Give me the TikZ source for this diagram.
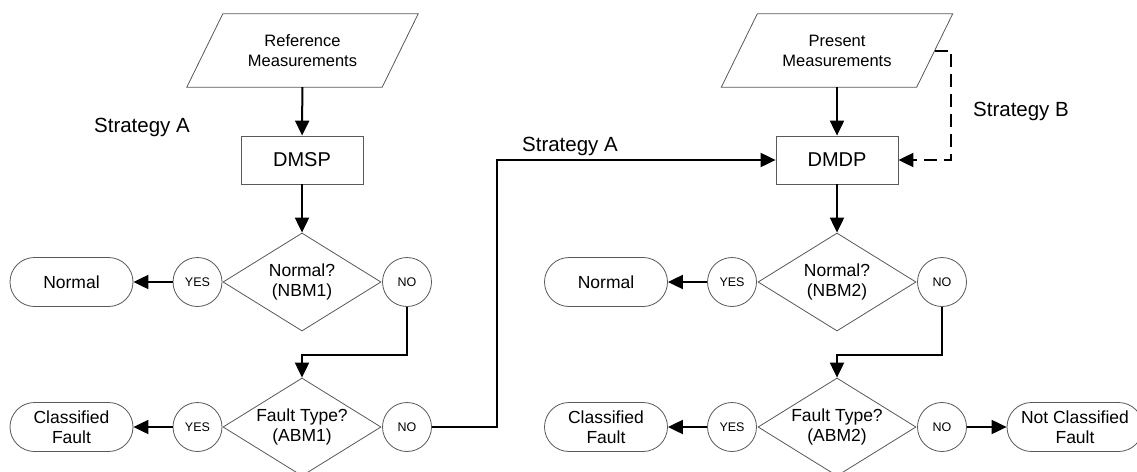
\documentclass[tikz,border=0pt]{standalone}
\usepackage{fontspec}
\setmainfont{Liberation Sans}
\usetikzlibrary{shapes.geometric,arrows.meta,calc}

\begin{document}
\begin{tikzpicture}[x=1pt,y=-1pt,
  outline/.style={draw=black!65, line width=0.8pt},
  procbox/.style={outline, rectangle, minimum width=122pt, minimum height=48pt, inner sep=0pt, font=\fontsize{20}{24}\selectfont},
  paranode/.style={rectangle, minimum width=195pt, minimum height=73pt, inner sep=0pt, align=center, font=\fontsize{16.5}{20}\selectfont},
  decision/.style={outline, diamond, aspect=1.61, minimum width=158pt, minimum height=98pt, inner sep=0pt, align=center, font=\fontsize{17.5}{20}\selectfont},
  answer/.style={outline, circle, minimum size=49pt, inner sep=0pt, font=\fontsize{12.5}{14}\selectfont},
  terminal/.style={outline, rectangle, rounded corners=24.5pt, minimum width=123pt, minimum height=49pt, inner sep=0pt, align=center, font=\fontsize{17.5}{20}\selectfont},
  conn/.style={line width=2pt, -{Triangle[length=15pt,width=14pt]}},
  stratlabel/.style={font=\fontsize{20.5}{24}\selectfont, inner sep=0pt}
]
\clip (0,0) rectangle (1137,471);
\fill[white] (0,0) rectangle (1137,471);

% ---------- left column ----------
\node[paranode] (ref) at (302.5,50.5) {Reference\\Measurements};
\draw[outline] ($(ref.north west)+(18,0)$) -- ($(ref.north east)+(18,0)$)
  -- ($(ref.south east)+(-18,0)$) -- ($(ref.south west)+(-18,0)$) -- cycle;
\node[procbox] (dmsp) at (302,160) {DMSP};
\node[decision] (d1) at (302,282) {Normal?\\(NBM1)};
\node[answer] (yes1) at (197.5,282) {YES};
\node[answer] (no1) at (407,282) {NO};
\node[terminal] (norm1) at (71.5,282) {Normal};
\node[decision] (d2) at (302,427) {Fault Type?\\(ABM1)};
\node[answer] (yes2) at (197.5,427) {YES};
\node[answer] (no2) at (407,427) {NO};
\node[terminal] (cf1) at (71.5,427) {Classified\\Fault};
\node[stratlabel] (sa1) at (142,127) {Strategy A};

% ---------- right column ----------
\node[paranode] (pres) at (837,50.5) {Present\\Measurements};
\draw[outline] ($(pres.north west)+(18,0)$) -- ($(pres.north east)+(18,0)$)
  -- ($(pres.south east)+(-18,0)$) -- ($(pres.south west)+(-18,0)$) -- cycle;
\node[procbox] (dmdp) at (837,160) {DMDP};
\node[decision] (d3) at (837,282) {Normal?\\(NBM2)};
\node[answer] (yes3) at (732,282) {YES};
\node[answer] (no3) at (942,282) {NO};
\node[terminal] (norm2) at (606,282) {Normal};
\node[decision] (d4) at (837,427) {Fault Type?\\(ABM2)};
\node[answer] (yes4) at (732,427) {YES};
\node[answer] (no4) at (942,427) {NO};
\node[terminal] (cf2) at (606,427) {Classified\\Fault};
\node[terminal, minimum width=136pt] (ncf) at (1075,427) {Not Classified\\Fault};
\node[stratlabel] (sa2) at (570,146) {Strategy A};
\node[stratlabel] (sb) at (1021,111) {Strategy B};

% ---------- connectors ----------
\coordinate (j1) at (302,355);
\coordinate (j3) at (837,355);
\coordinate (k) at (497,160);
\coordinate (bt) at (951,50.5);

\draw[conn] (ref) -- (dmsp);
\draw[conn] (dmsp) -- (d1);
\draw[conn] (yes1) -- (norm1);
\draw[conn] (no1.south) |- (j1) -- (d2.north);
\draw[conn] (yes2) -- (cf1);
\draw[conn] (no2.east) -| (k) -- (dmdp.west);

\draw[conn] (pres) -- (dmdp);
\draw[conn] (dmdp) -- (d3);
\draw[conn] (yes3) -- (norm2);
\draw[conn] (no3.south) |- (j3) -- (d4.north);
\draw[conn] (yes4) -- (cf2);
\draw[conn] (no4) -- (ncf);
\draw[conn, dash pattern=on 13pt off 7pt] (pres.east) -- (bt) |- (dmdp.east);
\end{tikzpicture}
\end{document}
